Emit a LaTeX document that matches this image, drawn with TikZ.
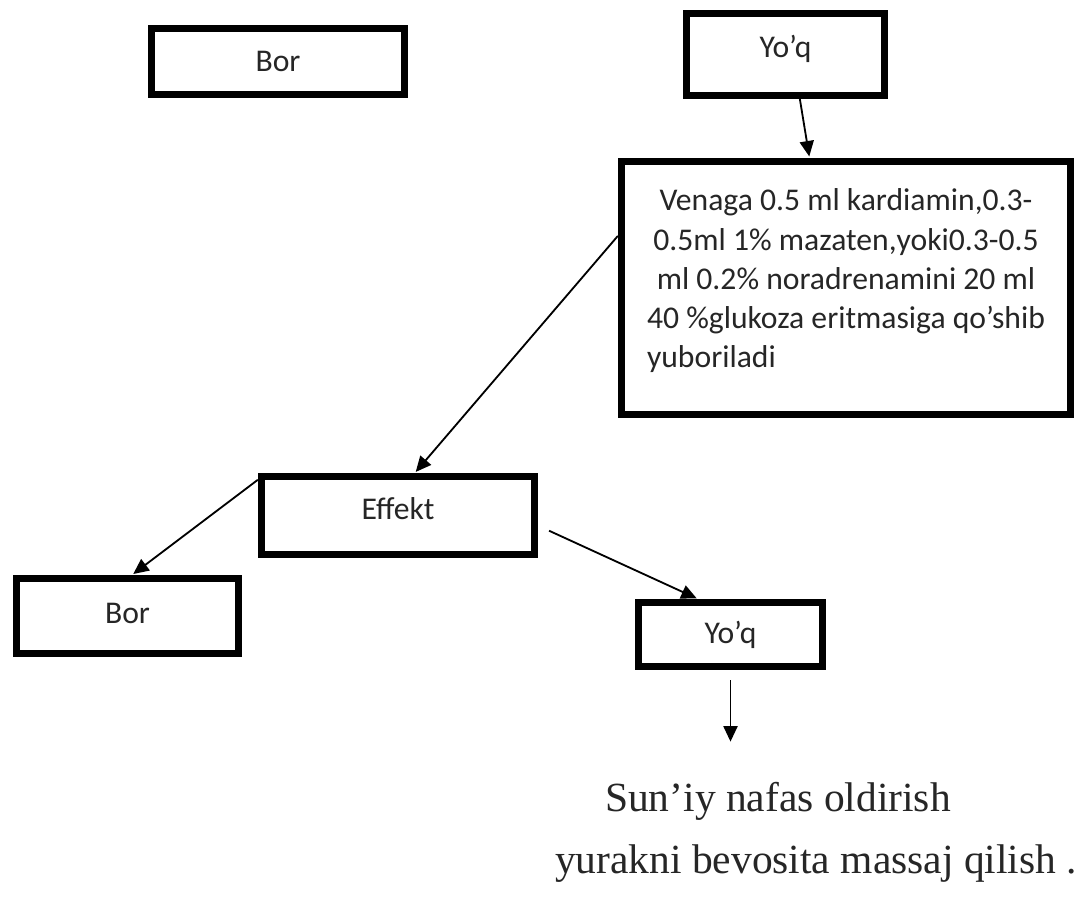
\documentclass[tikz,border=0pt]{standalone}
\usepackage{fontspec}
\usepackage{calc}
\setmainfont{Liberation Serif}
\newfontfamily\boxfont{Carlito}
\usetikzlibrary{arrows.meta,calc}

\begin{document}
\begin{tikzpicture}[x=0.025cm, y=-0.025cm,
    box/.style={draw, line width=5pt, inner sep=0pt, text=black!85,
      font=\boxfont\fontsize{22.5pt}{27.8pt}\selectfont},
    lnk/.style={-{Triangle[length=11pt, width=10pt]}, line width=1.3pt, shorten >=1pt},
    note/.style={anchor=base, inner sep=0pt, text=black!85, font=\fontsize{29.5pt}{34pt}\selectfont}]
    \fill[white] (0,0) rectangle (1078,904);
    \useasboundingbox (0,0) rectangle (1078,904);
    \node (bor) [box, minimum width=6.33cm, minimum height=1.65cm] at (278,61.5) {Bor};
    \node (yoq) [box, text depth=12pt, minimum width=4.95cm, minimum height=2.05cm] at (785.5,54.5) {Yo’q};
    \node (drug) [box, align=center, minimum width=11.23cm, minimum height=6.33cm] at (846,288)
      {Venaga 0.5 ml kardiamin,0.3-\\
       0.5ml 1\% mazaten,yoki0.3-0.5\\
       ml 0.2\% noradrenamini 20 ml\\
       40 \%glukoza eritmasiga qo’shib\\
       \makebox[\widthof{40 \%glukoza eritmasiga qo’shib}][l]{yuboriladi\rule[-14pt]{0pt}{1pt}}};
    \node (effekt) [box, text depth=10pt, minimum width=6.83cm, minimum height=1.95cm] at (398,515.5) {Effekt};
    \node (bor2) [box, text depth=4pt, minimum width=5.55cm, minimum height=1.88cm] at (127.5,616) {Bor};
    \node (yoq2) [box, minimum width=4.6cm, minimum height=1.6cm] at (730.5,634.5) {Yo’q};
    \coordinate (down) at (730.5,743);
    \node (suniy) [note] at (778,811) {Sun’iy nafas oldirish};
    \node (yurak) [note] at (816,873) {yurakni bevosita massaj qilish .};

    \draw[lnk] ($(yoq.south west)!.57!(yoq.south east)$) -- ($(drug.north west)!.42!(drug.north east)$);
    \draw[lnk] ($(drug.north west)!.30!(drug.south west)$) -- ($(effekt.north west)!.56!(effekt.north east)$);
    \draw[lnk] ($(effekt.north west)!.08!(effekt.south west)$) -- ($(bor2.north west)!.52!(bor2.north east)$);
    \draw[lnk, shorten <=0.3cm] ($(effekt.north east)!.62!(effekt.south east)$) -- ($(yoq2.north west)!.33!(yoq2.north east)$);
    \draw[lnk, shorten <=0.25cm] (yoq2.south) -- (down);
\end{tikzpicture}
\end{document}
